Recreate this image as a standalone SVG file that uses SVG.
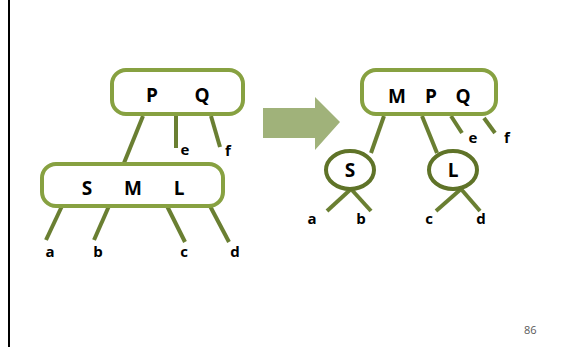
<svg xmlns="http://www.w3.org/2000/svg" width="568" height="347" viewBox="0 0 568 347">
  <style>
    .box { fill: #ffffff; stroke: #87a141; stroke-width: 4; }
    .ring { fill: #ffffff; stroke: #5f7328; stroke-width: 4; }
    .edge { stroke: #6a7f32; stroke-width: 4; fill: none; }
    .key { font-family: "Open Sans", Lato, sans-serif; font-weight: bold; font-size: 19px; fill: #000000; text-anchor: middle; }
    .leaf { font-family: "Open Sans", Lato, sans-serif; font-weight: bold; font-size: 15px; fill: #000000; text-anchor: middle; }
    .page { font-family: "Open Sans", Lato, sans-serif; font-size: 11px; fill: #595959; }
  </style>

  <rect width="568" height="347" fill="#ffffff"/>
  <!-- slide margin rule -->
  <line x1="9" y1="0" x2="9" y2="347" stroke="#000000" stroke-width="2"/>

  <!-- connectors -->
  <g id="connectors" class="edge">
    <!-- before split -->
    <line x1="143" y1="116" x2="124" y2="163"/>
    <line x1="176" y1="116" x2="176" y2="148"/>
    <line x1="211" y1="116" x2="220" y2="147"/>
    <line x1="62" y1="206" x2="46" y2="240"/>
    <line x1="109" y1="206" x2="94" y2="240"/>
    <line x1="167" y1="206" x2="185" y2="242"/>
    <line x1="210" y1="206" x2="229" y2="242"/>
    <!-- after split -->
    <line x1="384" y1="116" x2="371" y2="153"/>
    <line x1="422" y1="116" x2="437" y2="153"/>
    <line x1="451" y1="116" x2="462" y2="133"/>
    <line x1="484" y1="118" x2="495" y2="133"/>
    <line x1="351" y1="189" x2="327" y2="211"/>
    <line x1="351" y1="189" x2="371" y2="211"/>
    <line x1="461" y1="189" x2="436" y2="211"/>
    <line x1="461" y1="189" x2="480" y2="211"/>
  </g>

  <!-- transition arrow -->
  <polygon points="263,108 315,108 315,97 340,122 315,150 315,138 263,138" fill="#a0b27a"/>

  <g id="node-PQ">
    <rect class="box" x="112" y="70" width="131" height="44" rx="14"/>
    <text class="key" x="152" y="102">P</text>
    <text class="key" x="202" y="102">Q</text>
  </g>

  <g id="node-SML">
    <rect class="box" x="42" y="164" width="181" height="42" rx="14"/>
    <text class="key" x="87" y="195">S</text>
    <text class="key" x="133" y="195">M</text>
    <text class="key" x="179" y="195">L</text>
  </g>

  <g id="node-MPQ">
    <rect class="box" x="362" y="70" width="134" height="44" rx="14"/>
    <text class="key" x="397" y="103">M</text>
    <text class="key" x="431" y="103">P</text>
    <text class="key" x="463" y="103">Q</text>
  </g>

  <g id="node-S">
    <ellipse class="ring" cx="350" cy="170" rx="24" ry="19"/>
    <text class="key" x="350" y="177" font-size="17">S</text>
  </g>

  <g id="node-L">
    <ellipse class="ring" cx="453" cy="170" rx="24" ry="19"/>
    <text class="key" x="453" y="177" font-size="17">L</text>
  </g>

  <!-- subtree labels -->
  <g id="leaves">
    <text class="leaf" x="185" y="155">e</text>
    <text class="leaf" x="228" y="156">f</text>
    <text class="leaf" x="50" y="257">a</text>
    <text class="leaf" x="98" y="257">b</text>
    <text class="leaf" x="184" y="257">c</text>
    <text class="leaf" x="235" y="257">d</text>
    <text class="leaf" x="473" y="143">e</text>
    <text class="leaf" x="507" y="143">f</text>
    <text class="leaf" x="312" y="224">a</text>
    <text class="leaf" x="361" y="224">b</text>
    <text class="leaf" x="429" y="224">c</text>
    <text class="leaf" x="481" y="224">d</text>
  </g>

  <text class="page" x="524" y="334">86</text>
</svg>
